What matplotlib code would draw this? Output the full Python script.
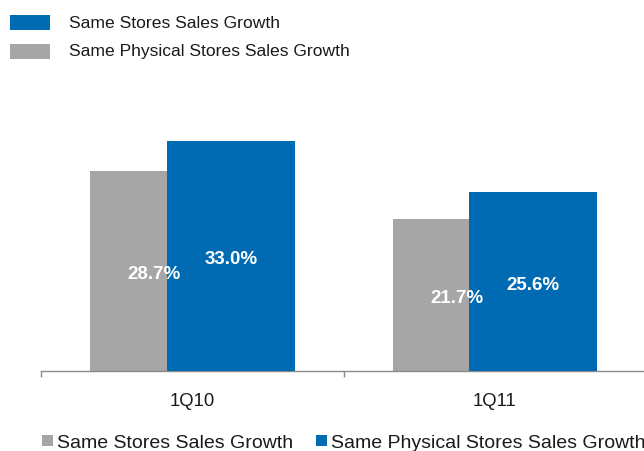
import matplotlib
matplotlib.use("Agg")
import matplotlib.pyplot as plt
from matplotlib.patches import Rectangle
import numpy as np

plt.rcParams['font.family'] = ['Liberation Sans', 'DejaVu Sans']

# Quarterly data
quarters = ["1Q10", "1Q11"]
same_stores = [28.7, 21.7]            # grey series
same_physical_stores = [33.0, 25.6]   # blue series

GREY = "#A6A6A6"
BLUE = "#006AB2"
TEXT = "#1A1A1A"
AXIS = "#8C8C8C"

fig = plt.figure(figsize=(6.44, 4.52), dpi=100)
W, H = 644, 452

ax = fig.add_axes([41.3 / W, (H - 371.7) / H, 604.8 / W, 278.8 / H])

x = np.arange(len(quarters))
width = 0.423
off = 0.127

bars_grey = ax.bar(x - off, same_stores, width, color=GREY, linewidth=0, zorder=2,
                   label="Same Stores Sales Growth")
bars_blue = ax.bar(x + off, same_physical_stores, width, color=BLUE, linewidth=0, zorder=3,
                   label="Same Physical Stores Sales Growth")

for bars, vals in ((bars_grey, same_stores), (bars_blue, same_physical_stores)):
    for b, v in zip(bars, vals):
        ax.text(b.get_x() + b.get_width() / 2, v / 2 - 0.4, f"{v:.1f}%",
                ha="center", va="center", color="white", fontsize=13.5,
                fontweight="bold", zorder=5)

ax.set_xlim(-0.5, 1.5)
ax.set_ylim(0, 40)
for s in ("top", "right", "left"):
    ax.spines[s].set_visible(False)
ax.spines["bottom"].set_color(AXIS)
ax.spines["bottom"].set_linewidth(1.0)
ax.set_yticks([])

# category boundary ticks and centred category labels
ax.set_xticks([-0.5, 0.5, 1.5])
ax.set_xticklabels([])
ax.tick_params(axis="x", which="major", direction="out", length=4.5, width=1.0, color=AXIS)
ax.set_xticks(x, minor=True)
ax.set_xticklabels(quarters, minor=True)
ax.tick_params(axis="x", which="minor", length=0, pad=15, labelsize=13.3, labelcolor=TEXT)

# legend block at the top
def fig_rect(x0, y0, x1, y1, color):
    fig.patches.append(Rectangle((x0 / W, 1 - y1 / H), (x1 - x0) / W, (y1 - y0) / H,
                                 transform=fig.transFigure, color=color, linewidth=0))

fig_rect(10, 16, 50, 31, BLUE)
fig_rect(10, 45, 50, 60, GREY)
fig.text(69.3 / W, 1 - 23.5 / H, "Same Stores Sales Growth", fontsize=12.6,
         color=TEXT, ha="left", va="center")
fig.text(69.3 / W, 1 - 51.5 / H, "Same Physical Stores Sales Growth", fontsize=12.6,
         color=TEXT, ha="left", va="center")

# legend along the bottom
fig.legend(handles=[bars_grey, bars_blue], loc="center left",
           bbox_to_anchor=(42.3 / W, 8 / H), ncol=2, frameon=False,
           fontsize=14, handlelength=0.54, handleheight=0.54, handletextpad=0.2,
           columnspacing=1.2, borderpad=0, borderaxespad=0, labelcolor=TEXT)

fig.savefig("out.png", dpi=100)
